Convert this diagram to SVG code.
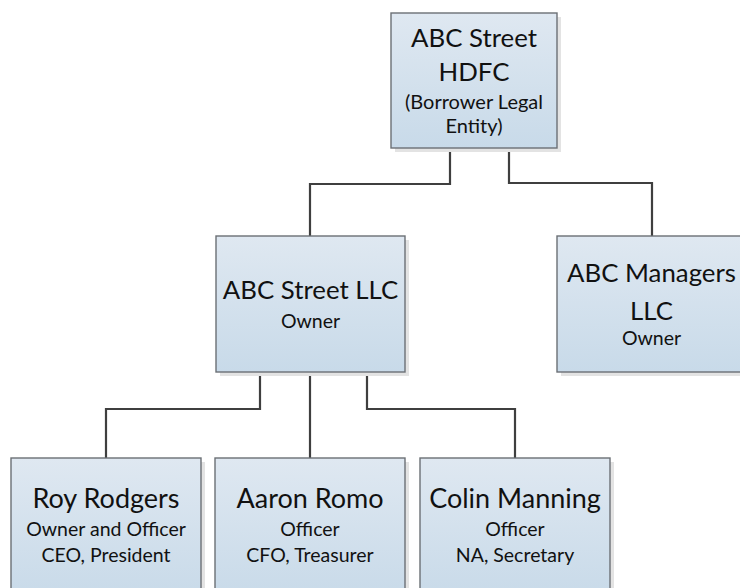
<svg xmlns="http://www.w3.org/2000/svg" width="740" height="588" viewBox="0 0 740 588">
<defs>
<linearGradient id="fill" x1="0" y1="0" x2="0" y2="1">
<stop offset="0" stop-color="#dfe8f1"/>
<stop offset="1" stop-color="#c8dae9"/>
</linearGradient>
<style>
.shadow{fill:#e3e3e3;}
.box{fill:url(#fill);stroke:#6b7075;stroke-width:1.4;}
.conn{fill:none;stroke:#3f3f3f;stroke-width:2.2;}
text{font-family:Lato,"Liberation Sans",sans-serif;fill:#111;text-anchor:middle;}
.big{font-size:27px;}
.abc{font-size:25.8px;}
.small{font-size:19.5px;}
.mid{font-size:20px;}
</style>
</defs>
<rect width="740" height="588" fill="#ffffff"/>
<g id="connectors">
<path class="conn" d="M450,148 V184 H310 V236"/>
<path class="conn" d="M509,148 V183 H652 V236"/>
<path class="conn" d="M260,372 V409 H106 V458"/>
<path class="conn" d="M310,372 V458"/>
<path class="conn" d="M367,372 V409 H515 V458"/>
</g>
<g id="hdfc">
<rect class="shadow" x="395" y="17" width="166" height="135"/>
<rect class="box" x="391" y="13" width="166" height="135"/>
<text class="abc" x="474" y="47">ABC Street</text>
<text class="abc" x="474" y="81">HDFC</text>
<text class="mid" x="474" y="108.5">(Borrower Legal</text>
<text class="mid" x="474" y="132.5">Entity)</text>
</g>
<g id="abc-street-llc">
<rect class="shadow" x="220" y="240" width="189" height="136"/>
<rect class="box" x="216" y="236" width="189" height="136"/>
<text class="abc" x="310.5" y="299">ABC Street LLC</text>
<text class="small" x="310.5" y="328">Owner</text>
</g>
<g id="abc-managers-llc">
<rect class="shadow" x="561" y="240" width="189" height="136"/>
<rect class="box" x="557" y="236" width="189" height="136"/>
<text class="abc" x="651.5" y="282">ABC Managers</text>
<text class="abc" x="651.5" y="320">LLC</text>
<text class="small" x="651.5" y="345">Owner</text>
</g>
<g id="roy-rodgers">
<rect class="shadow" x="15" y="462" width="190" height="140"/>
<rect class="box" x="11" y="458" width="190" height="140"/>
<text class="big" x="106" y="508">Roy Rodgers</text>
<text class="small" x="106" y="536">Owner and Officer</text>
<text class="small" x="106" y="562">CEO, President</text>
</g>
<g id="aaron-romo">
<rect class="shadow" x="219" y="462" width="190" height="140"/>
<rect class="box" x="215" y="458" width="190" height="140"/>
<text class="big" x="310" y="508">Aaron Romo</text>
<text class="small" x="310" y="536">Officer</text>
<text class="small" x="310" y="562">CFO, Treasurer</text>
</g>
<g id="colin-manning">
<rect class="shadow" x="424" y="462" width="190" height="140"/>
<rect class="box" x="420" y="458" width="190" height="140"/>
<text class="big" x="515" y="508">Colin Manning</text>
<text class="small" x="515" y="536">Officer</text>
<text class="small" x="515" y="562">NA, Secretary</text>
</g>
</svg>
